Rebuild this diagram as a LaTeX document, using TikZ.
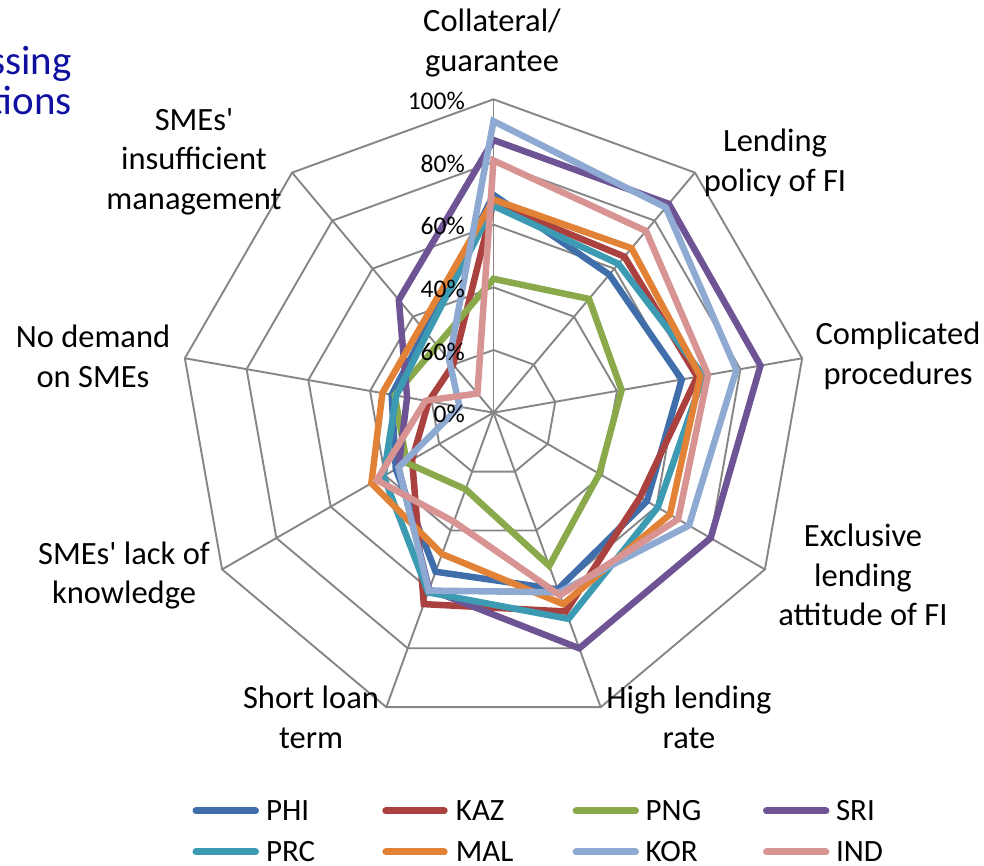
\documentclass[tikz,border=0pt]{standalone}
\usepackage{fontspec}
\setmainfont{Carlito}
\definecolor{gridgray}{RGB}{134,134,134}
\definecolor{cPHI}{RGB}{64,110,170}
\definecolor{cKAZ}{RGB}{170,65,62}
\definecolor{cPNG}{RGB}{137,169,75}
\definecolor{cSRI}{RGB}{110,84,148}
\definecolor{cPRC}{RGB}{60,155,178}
\definecolor{cMAL}{RGB}{226,130,55}
\definecolor{cKOR}{RGB}{143,170,210}
\definecolor{cIND}{RGB}{215,148,147}
\definecolor{titleblue}{RGB}{16,16,160}
\def\rs{3.134}
\begin{document}
\begin{tikzpicture}[x=1pt,y=1pt,
  grid/.style={draw=gridgray,line width=1.9pt},
  serie/.style={line width=6.5pt,line join=miter,miter limit=3},
  cat/.style={font=\fontsize{32.5}{39.5}\selectfont,align=center,text=black,inner sep=0pt},
  pct/.style={font=\fontsize{25.5}{30}\selectfont,anchor=east,inner sep=0pt},
  leg/.style={font=\fontsize{31}{36}\selectfont,anchor=west,inner sep=0pt},
  legline/.style={line width=7pt,line cap=round},
  ttl/.style={font=\fontsize{41}{42}\selectfont,text=titleblue,anchor=base east,inner sep=0pt}]
\useasboundingbox (0,0) rectangle (984,866);
\fill[white] (0,0) rectangle (984,866);
% title fragments
\node[ttl] (t1) at (72,791) {ssing};
\node[ttl] (t2) at (72,751) {tions};
\coordinate (c) at (493.5,453.3);
\begin{scope}[shift={(c)}]
  \foreach \r in {62.68,125.36,188.04,250.72,313.4} {
    \draw[grid] (90:\r) -- (50:\r) -- (10:\r) -- (-30:\r) -- (-70:\r) -- (-110:\r) -- (-150:\r) -- (170:\r) -- (130:\r) -- cycle;
  }
  \foreach \a in {90,50,10,-30,-70,-110,-150,170,130} \draw[grid] (0,0) -- (\a:313.4);
  % series: Collateral, Lending policy, Complicated, Exclusive, High rate, Short term, Lack knowledge, No demand, Insufficient mgmt
  \draw[serie,draw=cPHI] (90:{69.5*\rs}) -- (50:{57.5*\rs}) -- (10:{61*\rs}) -- (-30:{56.5*\rs}) -- (-70:{60*\rs}) -- (-110:{54*\rs}) -- (-150:{36*\rs}) -- (170:{33*\rs}) -- (130:{34*\rs}) -- cycle;
  \draw[serie,draw=cKAZ] (90:{67*\rs}) -- (50:{65*\rs}) -- (10:{66*\rs}) -- (-30:{54*\rs}) -- (-70:{67.5*\rs}) -- (-110:{65*\rs}) -- (-150:{30*\rs}) -- (170:{21*\rs}) -- (130:{20*\rs}) -- cycle;
  \draw[serie,draw=cPNG] (90:{42.7*\rs}) -- (50:{47.4*\rs}) -- (10:{41.5*\rs}) -- (-30:{39*\rs}) -- (-70:{52*\rs}) -- (-110:{26*\rs}) -- (-150:{32*\rs}) -- (170:{32*\rs}) -- (130:{28*\rs}) -- cycle;
  \draw[serie,draw=cSRI] (90:{87*\rs}) -- (50:{87*\rs}) -- (10:{86.5*\rs}) -- (-30:{80*\rs}) -- (-70:{80*\rs}) -- (-110:{60*\rs}) -- (-150:{35*\rs}) -- (170:{28*\rs}) -- (130:{47*\rs}) -- cycle;
  \draw[serie,draw=cPRC] (90:{66*\rs}) -- (50:{62*\rs}) -- (10:{68*\rs}) -- (-30:{60.5*\rs}) -- (-70:{70*\rs}) -- (-110:{61*\rs}) -- (-150:{40.5*\rs}) -- (170:{31.5*\rs}) -- (130:{33*\rs}) -- cycle;
  \draw[serie,draw=cMAL] (90:{68*\rs}) -- (50:{68.5*\rs}) -- (10:{67*\rs}) -- (-30:{65*\rs}) -- (-70:{65*\rs}) -- (-110:{48*\rs}) -- (-150:{45*\rs}) -- (170:{36*\rs}) -- (130:{36*\rs}) -- cycle;
  \draw[serie,draw=cKOR] (90:{93*\rs}) -- (50:{85.5*\rs}) -- (10:{78.7*\rs}) -- (-30:{72*\rs}) -- (-70:{61*\rs}) -- (-110:{60.4*\rs}) -- (-150:{35*\rs}) -- (170:{11*\rs}) -- (130:{22*\rs}) -- cycle;
  \draw[serie,draw=cIND] (90:{80.5*\rs}) -- (50:{75.7*\rs}) -- (10:{69.5*\rs}) -- (-30:{68*\rs}) -- (-70:{62*\rs}) -- (-110:{37*\rs}) -- (-150:{43*\rs}) -- (170:{22*\rs}) -- (130:{8*\rs}) -- cycle;
\end{scope}
% percent labels
\node[pct] (p100) at (465,765) {100\%};
\node[pct] (p80) at (465,702.5) {80\%};
\node[pct] (p60) at (465,640) {60\%};
\node[pct] (p40) at (465,577) {40\%};
\node[pct] (p20) at (465,514.5) {60\%};
\node[pct] (p0) at (465,452) {0\%};
% category labels
\node[cat] (k0) at (492,823) {Collateral/\\guarantee};
\node[cat] (k1) at (775,703) {Lending\\policy of FI};
\node[cat] (k2) at (898,510) {Complicated\\procedures};
\node[cat] (k3) at (863,291) {Exclusive\\lending\\attitude of FI};
\node[cat] (k4) at (689,148.5) {High lending\\rate};
\node[cat] (k5) at (311,148.5) {Short loan\\term};
\node[cat] (k6) at (124,290.5) {SMEs\textquotesingle{} lack of\\knowledge};
\node[cat] (k7) at (93,509.5) {No demand\\on SMEs};
\node[cat] (k8) at (194,704.5) {SMEs\textquotesingle\\insufficient\\management};
% legend
\foreach \xa/\xb/\xt/\yy/\cc/\nm in {192.5/259/265.9/55/cPHI/PHI, 382.3/447.7/455.7/55/cKAZ/KAZ, 572.6/639/645.5/55/cPNG/PNG, 763/829.4/835.8/55/cSRI/SRI, 192.5/259/265.9/14/cPRC/PRC, 382.3/447.7/455.7/14/cMAL/MAL, 572.6/639/645.5/14/cKOR/KOR, 763/829.4/835.8/14/cIND/IND} {
  \coordinate (la\nm) at ({\xa+3.5},\yy);
  \coordinate (lb\nm) at ({\xb-3.5},\yy);
  \draw[legline,draw=\cc] (la\nm) -- (lb\nm);
  \node[leg] (lt\nm) at (\xt,\yy) {\nm};
}
\end{tikzpicture}
\end{document}
